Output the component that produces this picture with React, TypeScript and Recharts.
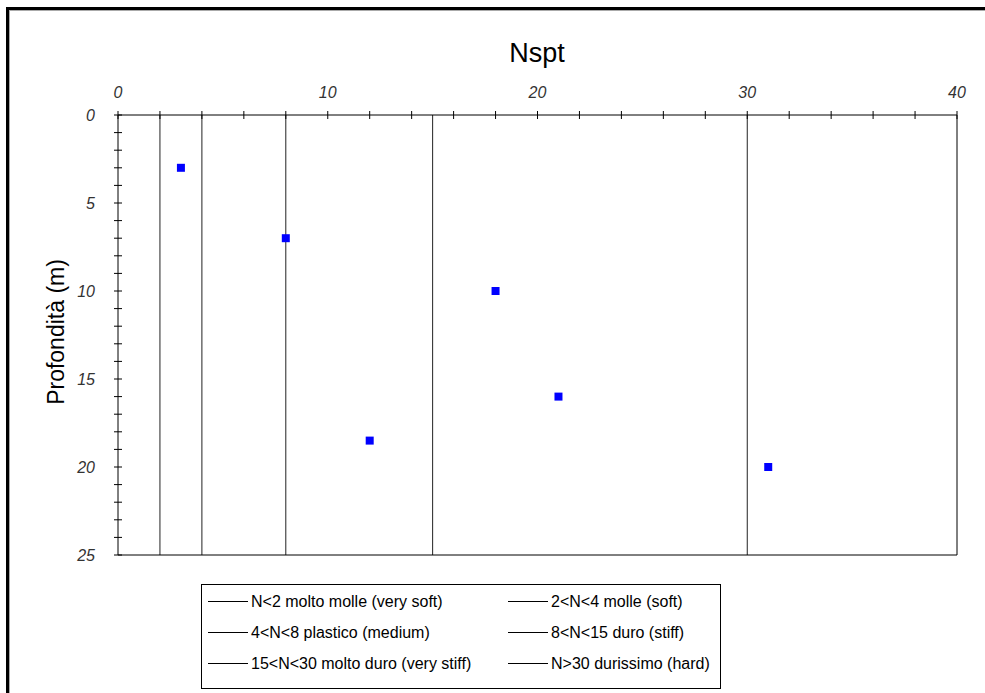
import React from 'react';
import { ScatterChart, Scatter, XAxis, YAxis, ZAxis, ReferenceLine } from 'recharts';

const nsptValues = [3, 8, 18, 21, 12, 31];
const depthValues = [3, 7, 10, 16, 18.5, 20];
const thresholds = [2, 4, 8, 15, 30];
const legendLabels = [
  'N<2 molto molle (very soft)',
  '2<N<4 molle (soft)',
  '4<N<8 plastico (medium)',
  '8<N<15 duro (stiff)',
  '15<N<30 molto duro (very stiff)',
  'N>30 durissimo (hard)',
];
const xTicks = [0, 2, 4, 6, 8, 10, 12, 14, 16, 18, 20, 22, 24, 26, 28, 30, 32, 34, 36, 38, 40];
const xLabelTicks = [0, 10, 20, 30, 40];
const yTicks = [0, 1, 2, 3, 4, 5, 6, 7, 8, 9, 10, 11, 12, 13, 14, 15, 16, 17, 18, 19, 20, 21, 22, 23, 24, 25];
const yLabelTicks = [0, 5, 10, 15, 20, 25];
const xDomain = [0, 40];
const yDomain = [0, 25];

const FONT = '"Liberation Sans", Arial, sans-serif';

const data = nsptValues.map((n, i) => ({ n, d: depthValues[i] }));

const XTick = (props: any) => {
  const { x, y, payload } = props;
  const v = payload.value;
  return (
    <g>
      <line x1={x} x2={x} y1={y - 4} y2={y + 4} stroke="#000" strokeWidth={1} />
      {xLabelTicks.includes(v) && (
        <text x={x} y={y - 17} textAnchor="middle" fontSize={16} fontStyle="italic" fill="#333" fontFamily={FONT}>
          {v}
        </text>
      )}
    </g>
  );
};

const YTick = (props: any) => {
  const { x, y, payload } = props;
  const v = payload.value;
  return (
    <g>
      <line x1={x - 4} x2={x + 4} y1={y} y2={y} stroke="#000" strokeWidth={1} />
      {yLabelTicks.includes(v) && (
        <text x={x - 23} y={y + 6} textAnchor="end" fontSize={16} fontStyle="italic" fill="#333" fontFamily={FONT}>
          {v}
        </text>
      )}
    </g>
  );
};

export default function App() {
  const rows = [0, 1, 2];
  return (
    <div style={{ position: 'absolute', left: 0, top: 0, width: 985, height: 693, overflow: 'hidden', background: '#fff' }}>
      <div
        style={{
          position: 'absolute',
          left: 6,
          top: 7,
          width: 1000,
          height: 720,
          borderLeft: '3px solid #000',
          borderTop: '3px solid #000',
          boxShadow: 'inset 1px 1px 0 #aaa',
        }}
      />
      <div style={{ position: 'absolute', left: 0, top: 0 }}>
        <ScatterChart width={985} height={693} margin={{ top: 85, left: 58, right: 28, bottom: 138 }}>
          <XAxis
            xAxisId={0}
            type="number"
            dataKey="n"
            orientation="top"
            height={30}
            domain={xDomain}
            ticks={xTicks}
            interval={0}
            tickSize={0}
            tickMargin={0}
            tickLine={false}
            axisLine={{ stroke: '#000' }}
            tick={<XTick />}
            allowDataOverflow
          />
          <YAxis
            yAxisId={0}
            type="number"
            dataKey="d"
            width={60}
            domain={yDomain}
            reversed
            ticks={yTicks}
            interval={0}
            tickSize={0}
            tickMargin={0}
            tickLine={false}
            axisLine={{ stroke: '#000' }}
            tick={<YTick />}
            allowDataOverflow
          />
          <ZAxis range={[100, 100]} />
          {thresholds.map((t) => (
            <ReferenceLine key={t} x={t} stroke="#222" strokeWidth={1} />
          ))}
          <ReferenceLine x={xDomain[1]} stroke="#000" strokeWidth={1} />
          <ReferenceLine y={yDomain[1]} stroke="#000" strokeWidth={1} />
          <Scatter data={data} fill="#0000ff" shape="square" isAnimationActive={false} />
        </ScatterChart>
      </div>
      <svg width={985} height={693} style={{ position: 'absolute', left: 0, top: 0, pointerEvents: 'none' }}>
        <text x={537} y={62} textAnchor="middle" fontSize={27} fontFamily={FONT} fill="#000">
          Nspt
        </text>
        <text
          x={64}
          y={332}
          textAnchor="middle"
          fontSize={23}
          fontFamily={FONT}
          fill="#000"
          transform="rotate(-90, 64, 332)"
        >
          Profondità (m)
        </text>
        <rect x={201.5} y={584.5} width={519} height={104} fill="none" stroke="#000" strokeWidth={1} />
        {rows.map((r) =>
          [0, 1].map((c) => {
            const idx = r * 2 + c;
            const x0 = c === 0 ? 208 : 508;
            const cy = 601 + r * 31;
            return (
              <g key={idx}>
                <line x1={x0} x2={x0 + 40} y1={cy + 0.5} y2={cy + 0.5} stroke="#000" strokeWidth={1} />
                <text x={x0 + 43} y={cy + 6} fontSize={16} fontFamily={FONT} fill="#000">
                  {legendLabels[idx]}
                </text>
              </g>
            );
          })
        )}
      </svg>
    </div>
  );
}
